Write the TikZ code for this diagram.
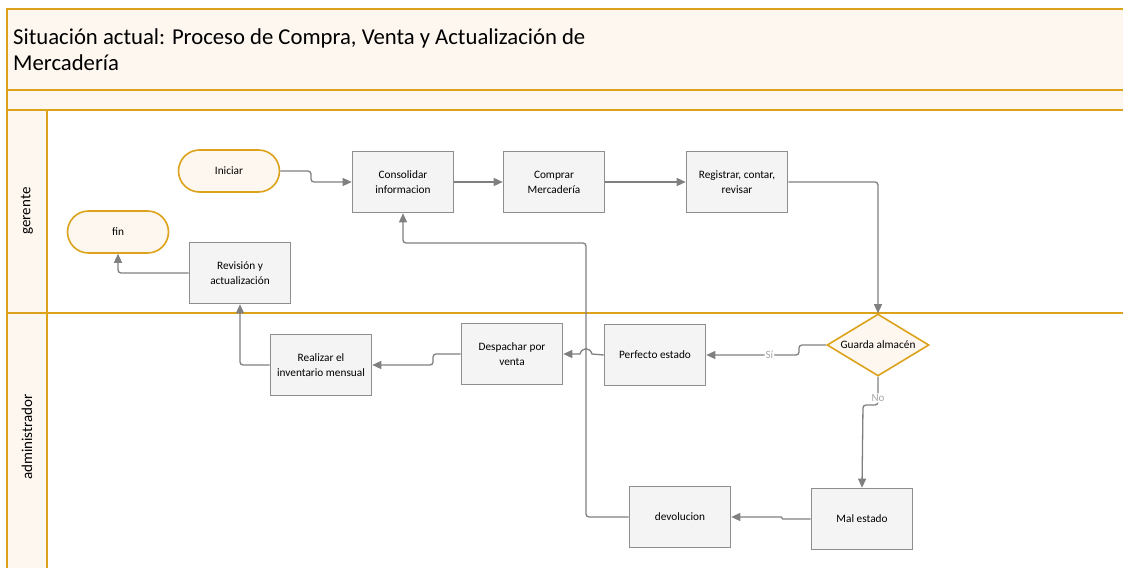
\documentclass[tikz,border=0pt]{standalone}
\usepackage{fontspec}
\setmainfont{Carlito}
\usetikzlibrary{shapes.geometric,arrows.meta}
\definecolor{gold}{HTML}{DCA21A}
\definecolor{cream}{HTML}{FEF7F0}
\definecolor{boxfill}{HTML}{F4F4F4}
\definecolor{boxline}{HTML}{8E8E8E}
\definecolor{conncol}{HTML}{808080}
\definecolor{lblcol}{HTML}{A6A6A6}
\tikzset{
  procbox/.style={draw=boxline, line width=1.6pt, fill=boxfill, minimum width=101pt, minimum height=61pt, align=center, font=\fontsize{11.3}{15}\selectfont, inner sep=2pt},
  termbox/.style={draw=gold, line width=1.6pt, fill=cream, rounded corners=21pt, minimum width=101pt, minimum height=42pt, font=\fontsize{11.3}{15}\selectfont},
  decbox/.style={draw=gold, line width=1.6pt, fill=cream, shape=diamond, aspect=1.645, inner sep=0pt, minimum width=102pt, minimum height=62pt, font=\fontsize{11.3}{15}\selectfont},
  conn/.style={draw=conncol, line width=1.3pt, rounded corners=3pt, -{Triangle[length=9pt,width=8pt]}},
  lanetxt/.style={rotate=90, font=\fontsize{15}{18}\selectfont},
  edgelbl/.style={fill=white, text=lblcol, inner sep=1pt, font=\fontsize{11}{13}\selectfont},
  bandline/.style={draw=gold, line width=1.6pt}
}
\begin{document}
\begin{tikzpicture}[x=1pt,y=-1pt]
\useasboundingbox (0,0) rectangle (1123,567);
\fill[white] (0,0) rectangle (1123,567);
% bands
\fill[cream] (7,9) rectangle (1130,110);
\fill[cream] (7,110) rectangle (47,570);
\draw[bandline] (7,570) -- (7,9) -- (1130,9);
\draw[bandline] (7,90) -- (1130,90);
\draw[bandline] (7,110) -- (1130,110);
\draw[bandline] (7,313) -- (1130,313);
\draw[bandline] (47,110) -- (47,570);
\node[anchor=west, align=left, font=\fontsize{22.7}{26}\selectfont, inner sep=0pt] (title) at (13,50) {Situación actual: Proceso de Compra, Venta y Actualización de\\Mercadería};
\node[lanetxt] (lg) at (27,211) {gerente};
\node[lanetxt] (la) at (27,437) {administrador};
% nodes
\node[termbox] (ini) at (229,171) {Iniciar};
\node[procbox] (cons) at (403,182) {Consolidar\\informacion};
\node[procbox] (comp) at (554,182) {Comprar\\Mercadería};
\node[procbox] (reg) at (737,182) {Registrar, contar,\\revisar};
\node[termbox] (fin) at (118,232) {fin};
\node[procbox] (rev) at (240,273) {Revisión y\\actualización};
\node[decbox] (dec) at (878,345) {Guarda almacén};
\node[procbox] (perf) at (655,355) {Perfecto estado};
\node[procbox] (desp) at (512,354) {Despachar por\\venta};
\node[procbox] (real) at (321,365) {Realizar el\\inventario mensual};
\node[procbox] (dev) at (680,517) {devolucion};
\node[procbox] (mal) at (862,519) {Mal estado};
% connectors
\draw[conn] (ini.east) -- (311,171) -- (311,182) -- (cons.west);
\draw[conn] (cons.east) -- (comp.west);
\draw[conn] (comp.east) -- (reg.west);
\draw[conn] (reg.east) -- (878,182) -- (dec.north);
\draw[conn] (dec.west) -- (799,345) -- (799,355) -- node[edgelbl, pos=0.32] {Sí} (perf.east);
\draw[conn, rounded corners=0pt] (perf.west) -- (592,354) .. controls (590,347) and (582,347) .. (580,354) -- (desp.east);
\draw[conn] (desp.west) -- (433,354) -- (433,365) -- (real.east);
\draw[conn] (real.west) -- (240,365) -- (rev.south);
\draw[conn] (rev.west) -- (118,273) -- (fin.south);
\draw[conn] (dec.south) -- node[edgelbl, pos=0.75] {No} (878,405) -- (863,405) -- (mal.north);
\draw[conn, rounded corners=0.8pt] (mal.west) -- (782,519) -- (782,517) -- (dev.east);
\draw[conn] (dev.west) -- (586,517) -- (586,243) -- (403,243) -- (cons.south);
\end{tikzpicture}
\end{document}
